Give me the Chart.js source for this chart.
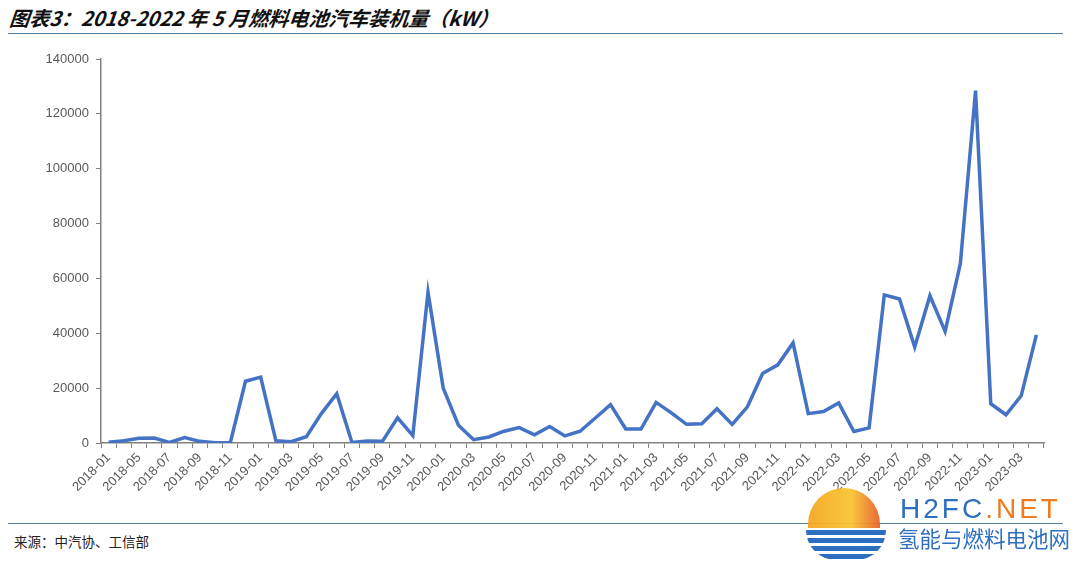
<!DOCTYPE html>
<html><head><meta charset="utf-8">
<script src="https://cdn.jsdelivr.net/npm/chart.js@4"></script>
<style>
html,body{margin:0;padding:0;background:#fff;width:1080px;height:564px;overflow:hidden;position:relative;font-family:"Liberation Sans",Arial,sans-serif}
#title{position:absolute;left:8px;top:3px;font-family:"Noto Sans CJK SC";font-weight:bold;font-style:italic;font-size:20px;color:#111;white-space:nowrap;transform:skewX(-6deg);transform-origin:left bottom}
#rule1{position:absolute;left:8px;top:33px;width:1055px;height:0;border-top:1.5px solid #4f7ca3}
#rule2{position:absolute;left:8px;top:523px;width:1055px;height:0;border-top:1.5px solid #5a7f98}
#src{position:absolute;left:14px;top:531px;font-family:"Noto Sans CJK SC";font-size:13.5px;color:#222;white-space:nowrap}
#wrap{position:absolute;left:0;top:40px;width:1060px;height:480px}
#logo{position:absolute;left:808px;top:488px;width:72px;height:40px;border-radius:72px 72px 0 0;background:linear-gradient(90deg,#f5a623,#f7c531 60%,#e8612c);opacity:.95}
#wave{position:absolute;left:806px;top:530px;width:80px;height:30px;border-radius:0 0 40px 40px;background:repeating-linear-gradient(180deg,#2c6fc0 0 5px,#fff 5px 8px)}
#wm1{position:absolute;left:900px;top:493px;font-family:"Liberation Sans";font-size:28px;letter-spacing:3px;color:#2f6fbf;white-space:nowrap}
#wm1 span{color:#f07a1e}
#wm2{position:absolute;left:898px;top:522px;font-family:"Noto Sans CJK SC";font-size:21.5px;color:#2f6fbf;white-space:nowrap}
</style></head>
<body>
<div id="title">图表3：2018-2022 年 5 月燃料电池汽车装机量（kW）</div>
<div id="rule1"></div>
<div id="wrap"><canvas id="c"></canvas></div>
<div id="rule2"></div>
<div id="src">来源：中汽协、工信部</div>
<div id="logo"></div>
<div id="wave"></div>
<div id="wm1">H2FC<span>.NET</span></div>
<div id="wm2">氢能与燃料电池网</div>
<script>
const months = [
 "2018-01","2018-04","2018-05","2018-06","2018-07","2018-08","2018-09","2018-10","2018-11","2018-12",
 "2019-01","2019-02","2019-03","2019-04","2019-05","2019-06","2019-07","2019-08","2019-09","2019-10","2019-11","2019-12",
 "2020-01","2020-02","2020-03","2020-04","2020-05","2020-06","2020-07","2020-08","2020-09","2020-10","2020-11","2020-12",
 "2021-01","2021-02","2021-03","2021-04","2021-05","2021-06","2021-07","2021-08","2021-09","2021-10","2021-11","2021-12",
 "2022-01","2022-02","2022-03","2022-04","2022-05","2022-06","2022-07","2022-08","2022-09","2022-10","2022-11","2022-12",
 "2023-01","2023-02","2023-03","2023-04"
];
const capacityKW = [
 300,800,1700,1800,200,2000,600,100,100,22500,
 24000,800,500,2300,10800,18000,200,700,600,9200,2700,55000,
 20000,6500,1200,2200,4300,5600,3000,6000,2600,4300,9100,14000,
 5100,5100,14800,11000,6800,7000,12500,6800,13200,25300,28500,36500,
 10700,11500,14600,4200,5500,54000,52500,35000,53700,40700,65400,128500,
 14300,10300,17200,39400
];
const yTicks = [0,20000,40000,60000,80000,100000,120000,140000];

const gray = '#595959';
new Chart(document.getElementById('c'), {
  type: 'line',
  data: { labels: months, datasets: [{ data: capacityKW, borderColor: '#4472C4', borderWidth: 3.5, pointRadius: 0, tension: 0, fill: false }] },
  options: {
    responsive: true, maintainAspectRatio: false, animation: false,
    layout: { padding: { left: 0, right: 16, top: 19, bottom: 0 } },
    plugins: { legend: { display: false }, tooltip: { enabled: false } },
    scales: {
      x: {
        offset: true,
        grid: { offset: true, drawOnChartArea: false, drawTicks: true, tickLength: 5, color: '#808080', lineWidth: 1 },
        border: { color: '#808080', width: 1.5 },
        ticks: { autoSkip: false, maxRotation: 45, minRotation: 45, color: gray, font: { family: 'Liberation Sans', size: 13 }, padding: 2,
          callback: function(v, i) { return i % 2 === 0 ? months[i] : ''; } },
        afterFit: function(s) { s.height = 77; }
      },
      y: {
        min: 0, max: 140000,
        afterBuildTicks: function(s) { s.ticks = yTicks.map(v => ({ value: v })); },
        grid: { drawOnChartArea: false, drawTicks: true, tickLength: 5, color: '#808080' },
        border: { color: '#808080', width: 1.5 },
        ticks: { color: gray, font: { family: 'Liberation Sans', size: 13 }, padding: 7, callback: function(v) { return String(v); } },
        afterFit: function(s) { s.width = 101; }
      }
    }
  }
});
</script>
</body></html>
